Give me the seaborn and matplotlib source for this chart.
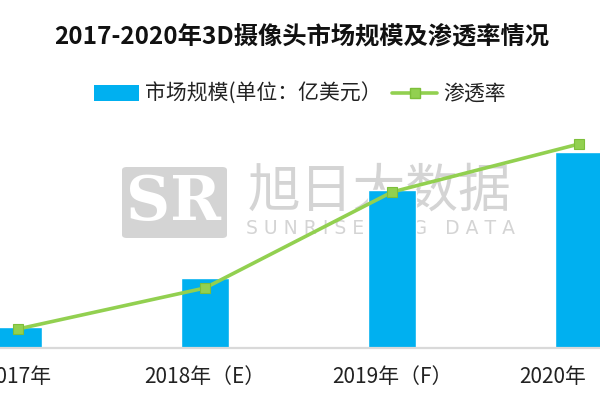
import matplotlib
matplotlib.use("Agg")
import matplotlib.pyplot as plt
from matplotlib.patches import Patch, FancyBboxPatch
from matplotlib.lines import Line2D
import seaborn as sns
import pandas as pd

years = ["2017年", "2018年（E）", "2019年（F）", "2020年（F）"]
market = [10.5, 35.0, 79.0, 98.0]      # 市场规模（亿美元）, estimated
rate = [1.9, 6.0, 15.6, 20.4]          # 渗透率 (%), estimated

title = "2017-2020年3D摄像头市场规模及渗透率情况"
bar_label = "市场规模(单位：亿美元）"
line_label = "渗透率"

BLUE = "#00B0F0"
GREEN = "#92D050"

sns.set_theme(style="white")
plt.rcParams["font.family"] = ["Noto Sans CJK SC", "DejaVu Sans"]

df = pd.DataFrame({"year": years, "market": market, "rate": rate})

fig = plt.figure(figsize=(6, 4), dpi=100)
ax = fig.add_axes([0.0, 0.13, 1.0, 0.595])
ax.patch.set_alpha(0)

sns.barplot(data=df, x="year", y="market", color=BLUE, width=0.257,
            saturation=1, ax=ax, zorder=3)

ax2 = ax.twinx()
sns.pointplot(data=df, x="year", y="rate", color=GREEN, markers="s",
              linestyles="-", ax=ax2, linewidth=2.6, markersize=6.5,
              markeredgecolor="#7DBF3A", markeredgewidth=0.8)

xl = (-18 / 187, 582 / 187)
for a in (ax, ax2):
    a.set_xlim(*xl)
    a.set_xlabel("")
    a.set_ylabel("")
    for s in a.spines.values():
        s.set_visible(False)
ax.set_ylim(0, 119)
ax2.set_ylim(0, 23.8)
ax2.set_yticks([])
ax.set_yticks([])
ax.axhline(0, color="#D9D9D9", lw=1.6, zorder=4, clip_on=False)
ax.set_xticks(range(len(years)))
ax.set_xticklabels(years, fontsize=15, color="#222222")
ax.tick_params(axis="x", length=0, pad=13)

# watermark
wm = "#D4D4D4"
box = FancyBboxPatch((122 / 600, 1 - 238 / 400), 105 / 600, 71 / 400,
                     boxstyle="round,pad=0,rounding_size=0.008",
                     transform=fig.transFigure, facecolor=wm, edgecolor="none",
                     zorder=0.5)
ax.add_patch(box)
ax.text(174 / 600, 1 - 203 / 400, "SR", transform=fig.transFigure,
        ha="center", va="center", fontsize=44, fontweight="bold",
        color="white", family="DejaVu Serif", zorder=0.6)
ax.text(380 / 600, 1 - 191 / 400, "旭日大数据", transform=fig.transFigure,
        ha="center", va="center", fontsize=38, color=wm, zorder=0.6)
ax.text(380 / 600, 1 - 229 / 400, "S U N R I S E   B I G   D A T A",
        transform=fig.transFigure, ha="center", va="center", fontsize=13.5,
        color=wm, family="DejaVu Sans", zorder=0.6)

fig.text(0.503, 0.91, title, ha="center", va="center", fontsize=17.5,
         fontweight="bold", color="#111111")

handles = [Patch(facecolor=BLUE, edgecolor="none"),
           Line2D([0], [0], color=GREEN, lw=2.6, marker="s", markersize=6.5,
                  markeredgecolor="#7DBF3A")]
fig.legend(handles, [bar_label, line_label], loc="center",
           bbox_to_anchor=(0.5, 0.765), ncol=2, frameon=False, fontsize=15,
           handlelength=2.15, handleheight=0.77, columnspacing=0.5,
           handletextpad=0.3, labelcolor="#222222")

fig.savefig("out.png", dpi=100)
